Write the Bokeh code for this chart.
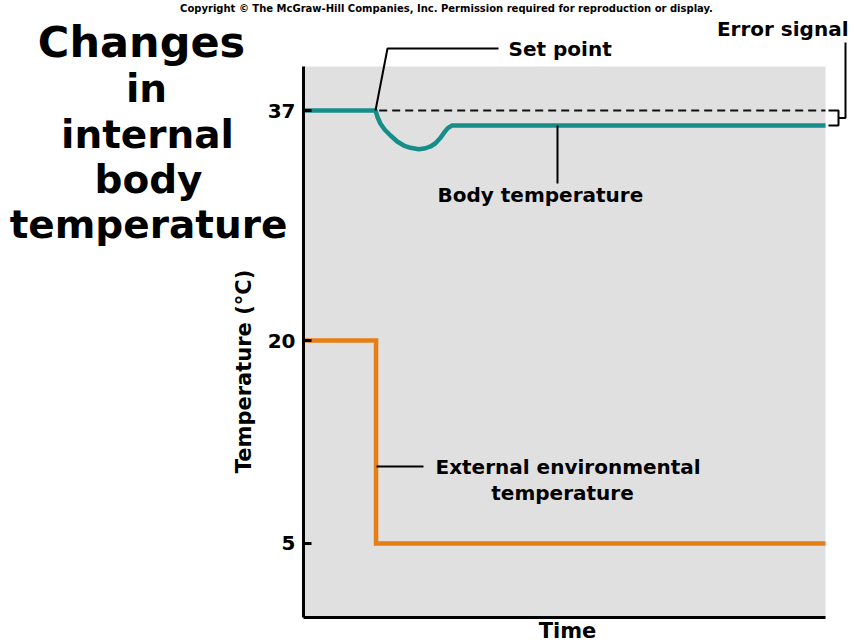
import math
from bokeh.plotting import figure
from bokeh.models import Range1d, FixedTicker, BoxAnnotation, LinearAxis
from bokeh.core.properties import value
from bokeh.embed import file_html
from bokeh.resources import INLINE

# ---- data ----
time_body = [0, 13.79, 14.23, 14.75, 15.57, 16.67, 17.95, 19.22, 20.5, 22.09,
             23.37, 24.33, 25.29, 26.25, 27.01, 27.64, 28.49, 100]
temp_body = [37, 37, 36.46, 36.02, 35.58, 35.15, 34.71, 34.41, 34.24, 34.14,
             34.21, 34.34, 34.58, 34.98, 35.4, 35.7, 35.9, 35.9]
time_env = [0, 13.9, 13.9, 100]
temp_env = [20, 20, 5, 5]
set_point = 37
steady_body = 35.9
y_ticks = [5, 20, 37]
title_lines = ["Changes", "in", "internal", "body", "temperature"]

FONT = "DejaVu Sans"
TEAL = "#178d89"
ORANGE = "#e67e14"
GRAY = "#e0e0e0"

W, H = 854, 643
PX_X = 5.22                # px per time unit
PX_Y = 13.53               # px per degree
def dx(sx):
    return (sx - 303) / PX_X
def dy(sy):
    return 37 + (110 - sy) / PX_Y

p = figure(width=W, height=H, output_backend="svg", toolbar_location=None,
           x_range=Range1d(dx(0), dx(W)), y_range=Range1d(dy(H), dy(0)),
           x_axis_location=None, y_axis_location=None,
           min_border_left=0, min_border_right=0, min_border_top=0,
           min_border_bottom=0, title=None)
p.grid.visible = False
p.outline_line_color = None
p.background_fill_color = "white"
p.border_fill_color = "white"

area_bottom = dy(617)
area_top = dy(66)

# gray plotting area
p.add_layout(BoxAnnotation(left=0, right=100, bottom=area_bottom, top=area_top,
                           fill_color=GRAY, fill_alpha=1, line_color=None,
                           level="underlay"))

# axes (drawn at fixed locations inside the canvas)
ya = LinearAxis(fixed_location=0, ticker=FixedTicker(ticks=y_ticks),
                bounds=(area_bottom, area_top))
ya.axis_line_width = 3
ya.axis_line_color = "black"
ya.major_tick_in = 8
ya.major_tick_out = 0
ya.major_tick_line_width = 3
ya.minor_tick_line_color = None
ya.major_label_text_font = FONT
ya.major_label_text_font_style = "bold"
ya.major_label_text_font_size = "20px"
ya.major_label_text_color = "black"
ya.major_label_standoff = 8
p.add_layout(ya, "left")

xa = LinearAxis(fixed_location=area_bottom, ticker=FixedTicker(ticks=[]),
                bounds=(0, 100))
xa.axis_line_width = 3
xa.axis_line_color = "black"
xa.major_tick_line_color = None
xa.minor_tick_line_color = None
xa.major_label_text_font_size = "0px"
p.add_layout(xa, "below")

# set point dashed line
p.line([14.5, 100], [set_point, set_point], line_color="#111111",
       line_width=2, line_dash="8 5")

# series
p.line(time_env, temp_env, line_color=ORANGE, line_width=4.5, line_join="miter")
p.line(time_body, temp_body, line_color=TEAL, line_width=4.5, line_join="round")

# leader lines
lk = dict(line_color="black", line_width=2)
p.line([dx(375), dx(387), dx(498)], [set_point, dy(48), dy(48)], **lk)
p.line([dx(557), dx(557)], [steady_body, dy(183)], **lk)
p.line([dx(376), dx(423)], [dy(466), dy(466)], **lk)
# error signal bracket
p.line([dx(828), dx(838), dx(838), dx(828)],
       [set_point, set_point, steady_body, steady_body], **lk)
mid = (set_point + steady_body) / 2
p.line([dx(838), dx(845), dx(845)], [mid, mid, dy(42)], **lk)

# texts (y = visual middle of capitals)
tk = dict(text_font=value(FONT), text_font_style="bold", text_color="black",
          text_baseline="middle")
p.text(x=[dx(508)], y=[dy(48.5)], text=["Set point"], text_align="left",
       text_font_size="20px", **tk)
p.text(x=[dx(848)], y=[dy(28.5)], text=["Error signal"], text_align="right",
       text_font_size="20px", **tk)
p.text(x=[dx(437)], y=[dy(194)], text=["Body temperature"], text_align="left",
       text_font_size="20px", **tk)
p.text(x=[dx(435)], y=[dy(466.5)], text=["External environmental"],
       text_align="left", text_font_size="20px", **tk)
p.text(x=[dx(562)], y=[dy(492.5)], text=["temperature"], text_align="center",
       text_font_size="20px", **tk)
p.text(x=[dx(446)], y=[dy(8)],
       text=["Copyright © The McGraw-Hill Companies, Inc. Permission required for reproduction or display."],
       text_align="center", text_font_size="10px", **tk)

# axis titles
p.text(x=[dx(243)], y=[dy(371)], text=["Temperature (°C)"], angle=math.pi / 2,
       text_align="center", text_font_size="21px", **tk)
p.text(x=[dx(567)], y=[dy(630)], text=["Time"], text_align="center",
       text_font_size="21px", **tk)

# chart heading
title_x = [141, 146, 147, 148, 148]
title_y = [41.5, 88, 134, 179, 224]
title_size = ["43px", "39px", "39px", "39px", "39px"]
for t, sx, sy, fs in zip(title_lines, title_x, title_y, title_size):
    p.text(x=[dx(sx)], y=[dy(sy)], text=[t], text_align="center",
           text_font_size=fs, **tk)

open("out.html", "w").write(file_html(p, INLINE))
